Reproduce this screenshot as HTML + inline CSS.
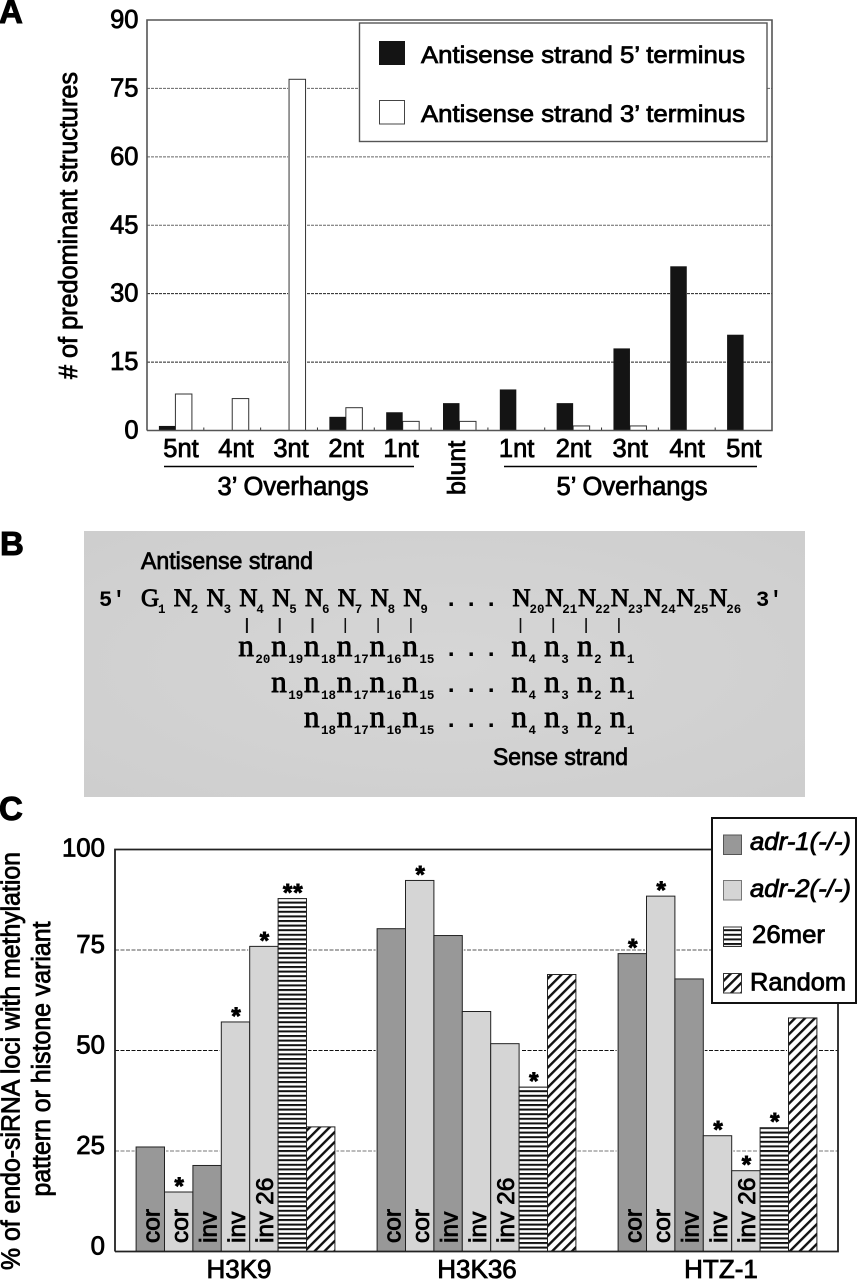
<!DOCTYPE html>
<html lang="en">
<head>
<meta charset="utf-8">
<title>Endo-siRNA structure figure</title>
<style>
html,body{margin:0;padding:0;background:#fff;width:857px;height:1280px;overflow:hidden}
svg{display:block;filter:blur(.35px)}
text{font-family:"Liberation Sans",Arial,sans-serif;fill:#000;stroke:#000;stroke-width:.8px}
.letter{font-size:33px;font-weight:700;stroke-width:1px}
.lab{font-size:24.5px}
</style>
</head>
<body>
<svg id="figure" xmlns="http://www.w3.org/2000/svg" width="857" height="1280" viewBox="0 0 857 1280">
<defs>
<pattern id="stripes" patternUnits="userSpaceOnUse" width="8" height="4.6">
<rect width="8" height="4.6" fill="#fff"/><rect width="8" height="2" fill="#111"/>
</pattern>
<pattern id="hatch" patternUnits="userSpaceOnUse" width="7" height="7" patternTransform="rotate(45)">
<rect width="7" height="7" fill="#fff"/><rect width="2.4" height="7" fill="#111"/>
</pattern>
<radialGradient id="panel-shade" cx="50%" cy="50%" r="70%">
<stop offset="0" stop-color="#d6d6d6"/><stop offset="1" stop-color="#cecece"/>
</radialGradient>
</defs>

<text class="letter" x="-1" y="23">A</text>
<text class="letter" x="0" y="555">B</text>
<text class="letter" x="-1" y="820">C</text>

<g id="chartA"></g>
<g id="panelB">
<rect x="84" y="531" width="721" height="266" fill="url(#panel-shade)"/>
<text class="lab" x="141" y="569" textLength="172" lengthAdjust="spacingAndGlyphs">Antisense strand</text>
<text class="lab" x="493" y="765" textLength="135" lengthAdjust="spacingAndGlyphs">Sense strand</text>
<text x="99" y="606" style="font-family:'Liberation Mono',monospace;font-size:22px;font-weight:700;stroke-width:0">5′</text>
<text x="756" y="606" style="font-family:'Liberation Mono',monospace;font-size:22px;font-weight:700;stroke-width:0">3′</text>
</g>
<g id="chartC"></g>
</svg>

<script>
// ---------- Panel A data ----------
const overhangCategories = ['5nt','4nt','3nt','2nt','1nt','blunt','1nt','2nt','3nt','4nt','5nt'];
const fivePrimeCounts = [1,0,0,3,4,6,9,6,18,36,21];
const threePrimeCounts = [8,7,77,5,2,2,0,1,1,0,0];
const overhangTicks = [0,15,30,45,60,75,90];

// ---------- Panel C data ----------
const histoneGroups = ['H3K9','H3K36','HTZ-1'];
const barSeriesTypes = ['adr1','adr2','adr1','adr2','adr2','mer26','random'];
const barLabels = ['cor','cor','inv','inv','inv 26','',''];
const h3k9Values = [26,14.8,21.4,57.1,75.9,87.8,31];
const h3k36Values = [80.3,92.3,78.6,59.7,51.7,40.9,68.9];
const htz1Values = [74.1,88.4,67.8,28.8,20.1,30.8,58.1];
const h3k9Stars = ['','*','','*','*','**',''];
const h3k36Stars = ['','*','','','','*',''];
const htz1Stars = ['*','*','','*','*','*',''];
const histoneTicks = [0,25,50,75,100];

// ---------- Panel B data ----------
const antisenseBases = ['G1','N2','N3','N4','N5','N6','N7','N8','N9'];
const antisenseTail = ['N20','N21','N22','N23','N24','N25','N26'];
const senseHeads = [
  ['n20','n19','n18','n17','n16','n15'],
  ['n19','n18','n17','n16','n15'],
  ['n18','n17','n16','n15']
];
const senseTail = ['n4','n3','n2','n1'];

const NS = 'http://www.w3.org/2000/svg';
function mk(parent, tag, attrs, txt){
  const el = document.createElementNS(NS, tag);
  for (const k in attrs) el.setAttribute(k, attrs[k]);
  if (txt !== undefined) el.textContent = txt;
  parent.appendChild(el);
  return el;
}

// ========== Panel A ==========
(function(){
  const g = document.getElementById('chartA');
  const L = 147, R = 772, T = 20, B = 430.5;
  const maxA = 90;
  const yA = v => B - (B - T) * v / maxA;
  const slot = (R - L) / overhangCategories.length;
  const cx = i => L + slot * (i + .5);
  const bw = 16.5;

  const bg = mk(g,'rect',{x:L,y:T,width:R-L,height:B-T,fill:'#fff'});
  
  

  overhangTicks.forEach(v => {
    if (v > 0 && v < maxA) {
      const ln = mk(g,'line',{x1:L,x2:R,y1:yA(v),y2:yA(v),stroke:v>=45?'#666':'#222','stroke-width':1,'stroke-dasharray':'3 1'});
      
      
    }
    const t = mk(g,'text',{x:138.5,y:yA(v)+8,'text-anchor':'end','font-size':25.5},String(v));
    
    
  });

  overhangCategories.forEach((c,i) => {
    const h5 = B - yA(fivePrimeCounts[i]);
    const h3 = B - yA(threePrimeCounts[i]);
    if (threePrimeCounts[i] > 0) {
      const halo = mk(g,'rect',{x:cx(i)-1,y:yA(threePrimeCounts[i])-1,width:bw+2,height:h3+1,fill:'#fff'});
      
      
      const w = mk(g,'rect',{x:cx(i),y:yA(threePrimeCounts[i]),width:bw,height:h3,fill:'#fff',stroke:'#333','stroke-width':1});
      
      
    }
    if (fivePrimeCounts[i] > 0) {
      const k = mk(g,'rect',{x:cx(i)-bw,y:yA(fivePrimeCounts[i]),width:bw,height:h5,fill:'#141414'});
      
      
    }
    if (i > 0) {
      const tk = mk(g,'line',{x1:L+slot*i,x2:L+slot*i,y1:B-3,y2:B,stroke:'#333','stroke-width':1});
      
      
    }
    let t;
    if (c === 'blunt') {
      t = mk(g,'text',{transform:'translate('+(cx(i)+5.5)+',495) rotate(-90)','font-size':25},c);
    } else {
      t = mk(g,'text',{x:cx(i)+(i<5?5.6-1.8*i:0.3),y:457,'text-anchor':'middle','font-size':25.5},c);
    }
    
    
  });

  const frame = mk(g,'path',{d:'M'+L+' '+B+'V'+T+'H'+R+'V'+B+'H'+L,fill:'none',stroke:'#555','stroke-width':1.6});
  
  

  const title = mk(g,'text',{transform:'translate(77,379) rotate(-90)','font-size':25.5,textLength:307,lengthAdjust:'spacingAndGlyphs'},'# of predominant structures');
  
  

  const l3 = mk(g,'line',{x1:164,x2:414,y1:466.5,y2:466.5,stroke:'#000','stroke-width':1.6});
  
  
  const l5 = mk(g,'line',{x1:504,x2:757,y1:466.5,y2:466.5,stroke:'#000','stroke-width':1.6});
  
  
  const t3 = mk(g,'text',{x:293,y:495,'text-anchor':'middle','font-size':25.5,textLength:151,lengthAdjust:'spacingAndGlyphs'},'3’ Overhangs');
  
  
  const t5 = mk(g,'text',{x:632,y:495,'text-anchor':'middle','font-size':25.5,textLength:151,lengthAdjust:'spacingAndGlyphs'},'5’ Overhangs');
  
  

  const leg = mk(g,'g',{});
  
  
  const lb = mk(leg,'rect',{x:359.5,y:23,width:407.5,height:118.5,fill:'#fff',stroke:'#555','stroke-width':1.4});
  
  
  const s1 = mk(leg,'rect',{x:379,y:41,width:26,height:24,fill:'#141414'});
  
  
  const s2 = mk(leg,'rect',{x:379.5,y:100.5,width:25,height:23.5,fill:'#fff',stroke:'#444','stroke-width':1});
  
  
  const e1 = mk(leg,'text',{x:421,y:63,'font-size':24.5,textLength:324,lengthAdjust:'spacingAndGlyphs'},'Antisense strand 5’ terminus');
  
  
  const e2 = mk(leg,'text',{x:421,y:122,'font-size':24.5,textLength:324,lengthAdjust:'spacingAndGlyphs'},'Antisense strand 3’ terminus');
  
  
})();

// ========== Panel B ==========
(function(){
  const g = document.getElementById('panelB');
  const step = 32.8, x0 = 141, tailX = 512.5, tailStep = 32.8;
  const bigStyle = "font-family:'Liberation Serif',serif;font-weight:400;stroke-width:.9px;";
  const subStyle = "font-family:'Liberation Mono',monospace;font-weight:700;font-size:12.5px;stroke-width:0;";

  function glyph(token, x, baseline, size){
    const letter = token[0], num = token.slice(1);
    const a = mk(g,'text',{x:x,y:baseline,style:bigStyle+'font-size:'+size+'px'},letter);
    
    
    const b = mk(g,'text',{x:x+17,y:baseline+7,style:subStyle},num);
    
    
  }
  function dots(baseline){
    const d = mk(g,'text',{x:444,y:baseline,style:"font-family:'Liberation Mono',monospace;font-weight:700;font-size:24px;letter-spacing:5.6px;stroke-width:0"},'...');
    
    
  }

  antisenseBases.forEach((t,i) => glyph(t, x0+step*i, 606, 25));
  antisenseTail.forEach((t,i) => glyph(t, tailX+tailStep*i, 606, 25));
  dots(606);

  const pairsHead = antisenseBases.length - 3;
  for (let i = 0; i < pairsHead; i++) {
    const x = x0 + step*(i+3) + 7.5;
    const tick = mk(g,'line',{x1:x,x2:x,y1:618,y2:633,stroke:'#111','stroke-width':i<3?2:1.5});
    
    
  }
  senseTail.forEach((t,i) => {
    const x = tailX + tailStep*i + 8;
    const tick = mk(g,'line',{x1:x,x2:x,y1:618,y2:633,stroke:'#111','stroke-width':1.6});
    
    
  });

  const rowBase = [656,692,727];
  senseHeads.forEach((row,r) => {
    row.forEach((t,i) => glyph(t, x0+step*(3+r+i)-1, rowBase[r], 31));
    senseTail.forEach((t,i) => glyph(t, tailX+tailStep*i-1, rowBase[r], 31));
    dots(rowBase[r]);
  });
})();

// ========== Panel C ==========
(function(){
  const g = document.getElementById('chartC');
  const L = 115, R = 838, T = 849.5, B = 1251.5;
  const maxC = 100;
  const yC = v => B - (B - T) * v / maxC;
  const groupW = (R - L) / histoneGroups.length;
  const gc = i => L + groupW * (i + .5);
  const bw = 28.4;
  const seriesValues = [h3k9Values,h3k36Values,htz1Values];
  const seriesStars = [h3k9Stars,h3k36Stars,htz1Stars];
  const fills = {adr1:'#989898',adr2:'#d5d5d5',mer26:'url(#stripes)',random:'url(#hatch)'};

  histoneTicks.forEach(v => {
    if (v > 0 && v < maxC) {
      const ln = mk(g,'line',{x1:L,x2:R,y1:yC(v),y2:yC(v),stroke:v===50?'#111':(v===75?'#555':'#777'),'stroke-width':1,'stroke-dasharray':'4 1.5'});
      
      
    }
    const t = mk(g,'text',{x:105,y:yC(v)+(v===100?7:3),'text-anchor':'end','font-size':25.8},String(v));
    
    
  });

  histoneGroups.forEach((name,gi) => {
    const vals = seriesValues[gi], stars = seriesStars[gi];
    const start = gc(gi) - bw * vals.length / 2;
    vals.forEach((v,i) => {
      const x = start + bw*i, y = yC(v);
      const halo = mk(g,'rect',{x:x-1.5,y:y-1,width:bw+3,height:B-y+1,fill:'#fff'});
      
      
    });
    vals.forEach((v,i) => {
      const x = start + bw*i, y = yC(v);
      const r = mk(g,'rect',{x:x,y:y,width:bw,height:B-y,fill:fills[barSeriesTypes[i]],stroke:'#222','stroke-width':1});
      
      
      if (barLabels[i]) {
        const t = mk(g,'text',{transform:'translate('+(x+23.5)+',1243) rotate(-90)','font-size':24.5},barLabels[i]);
        
        
      }
      if (stars[i]) {
        const s = mk(g,'text',{x:x+bw/2+1,y:y+2,'text-anchor':'middle','font-size':24,'font-weight':700,'letter-spacing':'1',style:'stroke-width:.9px'},stars[i]);
        
        
      }
    });
    const lbl = mk(g,'text',{x:gc(gi)+(gi===0?3.5:gi===2?3.5:0.5),y:1278,'text-anchor':'middle','font-size':26},name);
    
    
  });

  const frame = mk(g,'path',{d:'M'+L+' '+B+'V'+T+'H'+R+'V'+B+'H'+L,fill:'none',stroke:'#222','stroke-width':1.8});
  
  

  const t1 = mk(g,'text',{transform:'translate(19.5,1270) rotate(-90)','font-size':25.5,textLength:418,lengthAdjust:'spacingAndGlyphs'},'% of endo-siRNA loci with methylation');
  
  
  const t2 = mk(g,'text',{transform:'translate(50,1196.5) rotate(-90)','font-size':25.5,textLength:275,lengthAdjust:'spacingAndGlyphs'},'pattern or histone variant');
  
  

  const leg = mk(g,'g',{});
  
  
  const box = mk(leg,'rect',{x:712,y:818,width:144,height:185,fill:'#fff',stroke:'#111','stroke-width':2});
  
  

  const sw1 = mk(leg,'rect',{x:723.5,y:835,width:18,height:19.5,fill:fills.adr1,stroke:'#555','stroke-width':1});
  
  
  const sw2 = mk(leg,'rect',{x:723.5,y:880.5,width:18,height:19.5,fill:fills.adr2,stroke:'#777','stroke-width':1});
  
  
  const sw3 = mk(leg,'rect',{x:723.5,y:927,width:18,height:19.5,fill:fills.mer26,stroke:'#333','stroke-width':1});
  
  
  const sw4 = mk(leg,'rect',{x:723.5,y:973.5,width:18,height:19.5,fill:fills.random,stroke:'#333','stroke-width':1});
  
  

  const e1 = mk(leg,'text',{x:750,y:850,'font-size':25,'font-style':'italic',textLength:101,lengthAdjust:'spacingAndGlyphs'},'adr-1(-/-)');
  
  
  const e2 = mk(leg,'text',{x:750,y:897,'font-size':25,'font-style':'italic',textLength:101,lengthAdjust:'spacingAndGlyphs'},'adr-2(-/-)');
  
  
  const e3 = mk(leg,'text',{x:752,y:943,'font-size':25,textLength:73,lengthAdjust:'spacingAndGlyphs'},'26mer');
  
  
  const e4 = mk(leg,'text',{x:750,y:990.5,'font-size':25.4,textLength:96,lengthAdjust:'spacingAndGlyphs'},'Random');
  
  
})();
</script>
</body>
</html>
